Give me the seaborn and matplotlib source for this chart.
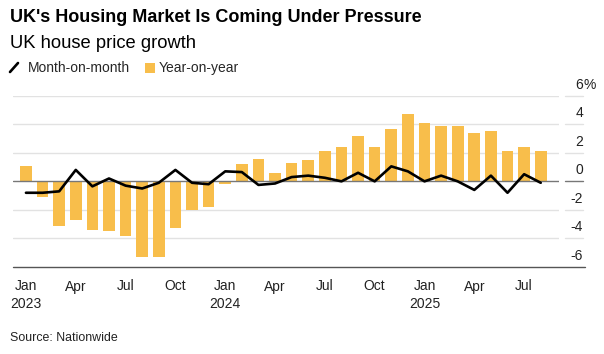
import numpy as np
import pandas as pd
import matplotlib
matplotlib.use('Agg')
import matplotlib.pyplot as plt
import seaborn as sns
from matplotlib.lines import Line2D
from matplotlib.patches import Rectangle

# Nationwide house prices, Jan 2023 - Aug 2025
months = pd.date_range("2023-01-01", "2025-08-01", freq="MS")
yoy = [1.1, -1.1, -3.1, -2.7, -3.4, -3.5, -3.8, -5.3, -5.3, -3.3, -2.0, -1.8,
       -0.2, 1.2, 1.6, 0.6, 1.3, 1.5, 2.1, 2.4, 3.2, 2.4, 3.7, 4.7,
       4.1, 3.9, 3.9, 3.4, 3.5, 2.1, 2.4, 2.1]
mom = [-0.8, -0.8, -0.7, 0.8, -0.35, 0.2, -0.3, -0.5, -0.1, 0.8, -0.1, -0.2,
       0.7, 0.65, -0.25, -0.15, 0.3, 0.4, 0.25, 0.0, 0.6, 0.0, 1.05, 0.7,
       0.0, 0.4, 0.0, -0.6, 0.4, -0.8, 0.5, -0.1]
tick_labels = ["Jan\n2023", "Apr", "Jul", "Oct", "Jan\n2024", "Apr", "Jul",
               "Oct", "Jan\n2025", "Apr", "Jul"]
y_ticks = [6, 4, 2, 0, -2, -4, -6]

BAR = "#F8BE4B"
FONT = "Liberation Sans"

df = pd.DataFrame({"idx": np.arange(len(months)), "yoy": yoy, "mom": mom})

sns.set_style("white")
plt.rcParams["font.family"] = [FONT, "DejaVu Sans"]

W, H = 604, 354
fig = plt.figure(figsize=(W / 100, H / 100), dpi=100)
left, right, top, bottom = 13, 559, 95.7, 267
ax = fig.add_axes([left / W, 1 - bottom / H, (right - left) / W, (bottom - top) / H])

aw = right - left
seg0, seg1 = (565 - left) / aw, (583 - left) / aw
for v in y_ticks:
    if v == -6:
        ax.axhline(v, xmin=0, xmax=(585 - left) / aw, color="#555555", lw=1, clip_on=False, zorder=4)
        continue
    c = "#777777" if v == 0 else "#e2e2e2"
    z = 3 if v == 0 else 0
    ax.axhline(v, xmin=0, xmax=1, color=c, lw=1, zorder=z)
    ax.axhline(v, xmin=seg0, xmax=seg1, color=c, lw=1, clip_on=False, zorder=z)

sns.barplot(data=df, x="idx", y="yoy", native_scale=True, color=BAR,
            width=0.7, saturation=1, edgecolor="none", ax=ax, zorder=2)
sns.lineplot(data=df, x="idx", y="mom", color="black", lw=1.9, ax=ax, zorder=5)

ax.set_xlim(-0.78, 32.1)
ax.set_ylim(-6, 6)
ax.set_xlabel("")
ax.set_ylabel("")
for s in ax.spines.values():
    s.set_visible(False)
ax.set_yticks([])
ax.set_xticks(df["idx"][::3])
ax.set_xticklabels(tick_labels, fontsize=10, color="#222222", linespacing=1.35)
ax.tick_params(axis="x", length=4.5, width=1, color="#555555", pad=4.5, direction="out")

# y labels sit on the right, just above their gridlines
for v in y_ticks:
    ax.annotate(str(v), xy=(583, v), xycoords=("figure pixels", "data"),
                xytext=(0, 3), textcoords="offset points",
                ha="right", va="bottom", fontsize=10, color="#222222")
    if v == 6:
        ax.annotate("%", xy=(583, v), xycoords=("figure pixels", "data"),
                    xytext=(0, 3), textcoords="offset points",
                    ha="left", va="bottom", fontsize=10, color="#222222")

fig.text(10 / W, 1 - 18 / H, "UK's Housing Market Is Coming Under Pressure",
         fontsize=13, fontweight="bold", va="center", ha="left", color="black")
fig.text(10 / W, 1 - 43 / H, "UK house price growth",
         fontsize=13.2, va="center", ha="left", color="black")

# legend
fig.add_artist(Line2D([10 / W, 18 / W], [1 - 72 / H, 1 - 63 / H],
                      transform=fig.transFigure, color="black", lw=1.9))
fig.text(28 / W, 1 - 68 / H, "Month-on-month", fontsize=10, va="center", ha="left")
fig.add_artist(Rectangle((145 / W, 1 - 73 / H), 10 / W, 10 / H,
                         transform=fig.transFigure, color=BAR, lw=0))
fig.text(159 / W, 1 - 68 / H, "Year-on-year", fontsize=10, va="center", ha="left")

fig.text(10 / W, 1 - 338 / H, "Source: Nationwide", fontsize=8.9,
         va="center", ha="left", color="#222222")

fig.savefig("out.png", dpi=100)
